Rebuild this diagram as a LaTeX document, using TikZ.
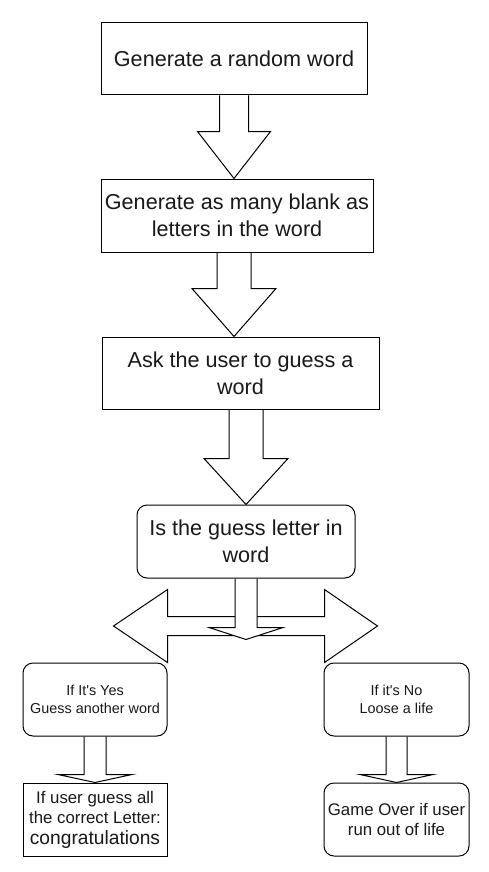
\documentclass[tikz,border=0pt]{standalone}
\usepackage{fontspec}
\setmainfont{Liberation Sans}[Ligatures=TeXOff]
\usetikzlibrary{calc}
\pgfdeclarelayer{bg}
\pgfsetlayers{bg,main}
\tikzset{
  box/.style={draw=black, line width=1pt, fill=white, inner sep=0pt, align=center, text=black!90},
  rbox/.style={box, rounded corners=10pt},
  blk/.style={draw=black, line width=1pt, fill=white, line join=miter},
  bigtxt/.style={font=\fontsize{21.6}{26.6}\selectfont},
  smalltxt/.style={font=\fontsize{14.4}{18.3}\selectfont},
  midtxt/.style={font=\fontsize{16.8}{20.5}\selectfont},
}
% #1 source node, #2 tip coordinate, #3 shaft half width, #4 head half width, #5 neck offset
\newcommand{\blkdown}[5]{%
  \draw[blk] ($(#2 |- #1.south)+(-#3,0)$) -- ($(#2 |- #1.south)+(-#3,#5)$)
    -- ($(#2 |- #1.south)+(-#4,#5)$) -- (#2) -- ($(#2 |- #1.south)+(#4,#5)$)
    -- ($(#2 |- #1.south)+(#3,#5)$) -- ($(#2 |- #1.south)+(#3,0)$);
}
\begin{document}
\begin{tikzpicture}[x=1pt,y=-1pt]
\useasboundingbox (0,0) rectangle (488,872);
\node[box,bigtxt,minimum width=266,minimum height=72] (b1) at (234,59) {Generate a random word};
\node[box,bigtxt,minimum width=272,minimum height=73] (b2) at (237,215.5) {Generate as many blank as\\letters in the word};
\node[box,bigtxt,minimum width=277,minimum height=72] (b3) at (240.5,373) {Ask the user to guess a\\word};
\node[rbox,bigtxt,minimum width=218,minimum height=73] (b4) at (246,541.5) {Is the guess letter in\\word};
\node[rbox,smalltxt,minimum width=144,minimum height=73] (b5) at (95,699.5) {If It's Yes\\Guess another word};
\node[rbox,smalltxt,minimum width=145,minimum height=73] (b6) at (396.5,699.5) {If it's No\\Loose a life};
\node[box,midtxt,minimum width=144,minimum height=73] (b7) at (95,819.5) {If user guess all\\the correct Letter:\\{\fontsize{19.2}{20.5}\selectfont congratulations}};
\node[rbox,midtxt,minimum width=145,minimum height=73] (b8) at (396.5,819.5) {Game Over if user\\run out of life};
\coordinate (t1) at (b1.south |- b2.north);
\coordinate (t2) at ($(b3.north)+(-6.5,0)$);
\coordinate (m) at ($(b4.south)+(0,61)$);
\begin{pgfonlayer}{bg}
\blkdown{b1}{t1}{14.5}{36.5}{36}
\blkdown{b2}{t2}{17}{42}{36}
\blkdown{b3}{b4.north}{17}{42}{49}
\draw[blk] (b5.north east) -- ($(b5.north east)+(-54,-36.5)$) -- ($(b5.north east)+(0,-73)$)
  -- ($(b5.north east)+(0,-46)$) -- ($(b6.north west)+(1,-46)$) -- ($(b6.north west)+(1,-73)$)
  -- ($(b6.north west)+(54,-36.5)$) -- ($(b6.north west)+(1,0)$) -- ($(b6.north west)+(1,-27)$)
  -- ($(b5.north east)+(0,-27)$) -- cycle;
\blkdown{b4}{m}{11}{37}{49}
\blkdown{b5}{b7.north}{11}{37}{38}
\blkdown{b6}{b8.north}{10.5}{36.5}{38}
\end{pgfonlayer}
\end{tikzpicture}
\end{document}
